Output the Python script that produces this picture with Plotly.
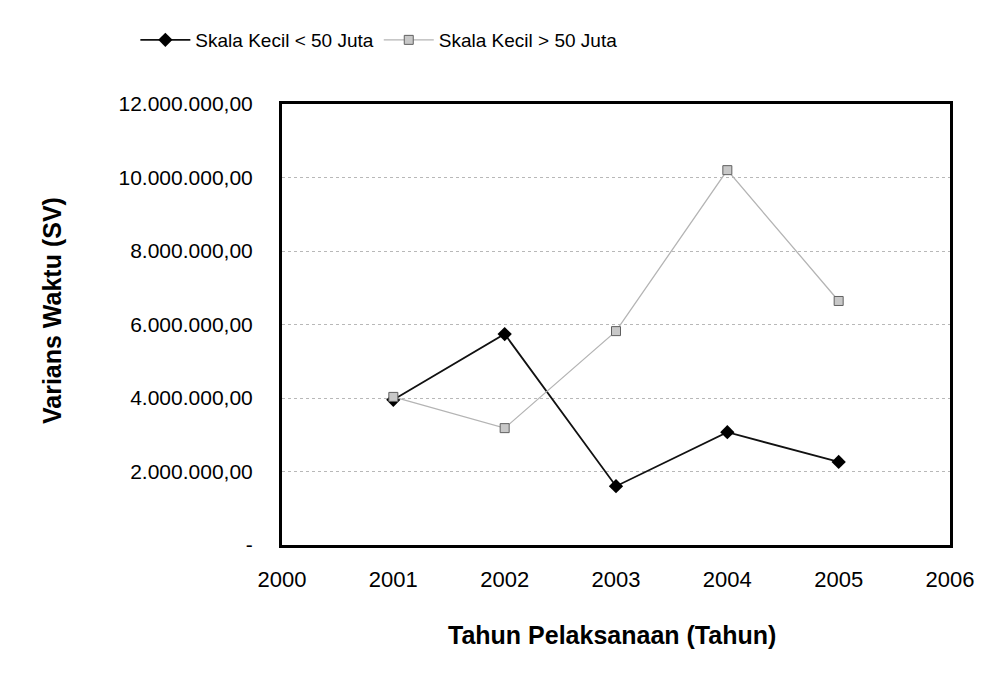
import plotly.graph_objects as go

years = [2001, 2002, 2003, 2004, 2005]
kecil_lt50 = [3950000, 5740000, 1600000, 3070000, 2260000]
kecil_gt50 = [4030000, 3180000, 5820000, 10200000, 6640000]
y_ticks = [0, 2000000, 4000000, 6000000, 8000000, 10000000, 12000000]
y_labels = ["-", "2.000.000,00", "4.000.000,00", "6.000.000,00", "8.000.000,00", "10.000.000,00", "12.000.000,00"]
x_ticks = [2000, 2001, 2002, 2003, 2004, 2005, 2006]

FONT = "Liberation Sans, Arial, sans-serif"

fig = go.Figure()
fig.add_trace(go.Scatter(
    x=years, y=kecil_lt50, mode="lines+markers", name="Skala Kecil < 50 Juta",
    line=dict(color="#111111", width=1.8),
    marker=dict(symbol="diamond", size=11, color="#000000"),
))
fig.add_trace(go.Scatter(
    x=years, y=kecil_gt50, mode="lines+markers", name="Skala Kecil > 50 Juta",
    line=dict(color="#b4b4b4", width=1.3),
    marker=dict(symbol="square", size=9, color="#c8c8c8", line=dict(color="#606060", width=1)),
))

fig.update_layout(
    width=986, height=660,
    paper_bgcolor="white", plot_bgcolor="white",
    margin=dict(l=274, r=44, t=96, b=123),
    font=dict(family=FONT, size=19, color="#000000"),
    showlegend=True,
    legend=dict(orientation="h", x=0.145, xanchor="center", y=0.9515, yanchor="middle",
                yref="container", font=dict(size=19), itemwidth=50, bgcolor="rgba(0,0,0,0)"),
    xaxis=dict(
        range=[2000, 2006], tickvals=x_ticks, ticktext=[str(v) for v in x_ticks],
        tickfont=dict(size=22),
        showgrid=False, zeroline=False, showline=True, linecolor="black", linewidth=3,
        mirror=True, ticks="outside", ticklen=13, tickcolor="rgba(0,0,0,0)",
    ),
    yaxis=dict(
        range=[0, 12000000], tickvals=y_ticks, ticktext=y_labels,
        tickfont=dict(size=21),
        showgrid=True, gridcolor="#b8b8b8", griddash="dot", gridwidth=1,
        zeroline=False, showline=True, linecolor="black", linewidth=3, mirror=True,
        ticks="outside", ticklen=22, tickcolor="rgba(0,0,0,0)",
    ),
    annotations=[
        dict(text="<b>Tahun Pelaksanaan (Tahun)</b>", xref="paper", yref="paper",
             x=0.494, y=-0.204, xanchor="center", yanchor="middle", showarrow=False,
             font=dict(size=25)),
        dict(text="<b>Varians Waktu (SV)</b>", xref="paper", yref="paper",
             x=-0.344, y=0.531, xanchor="center", yanchor="middle", showarrow=False,
             textangle=-90, font=dict(size=25)),
    ],
)

fig.write_html("out.html")
